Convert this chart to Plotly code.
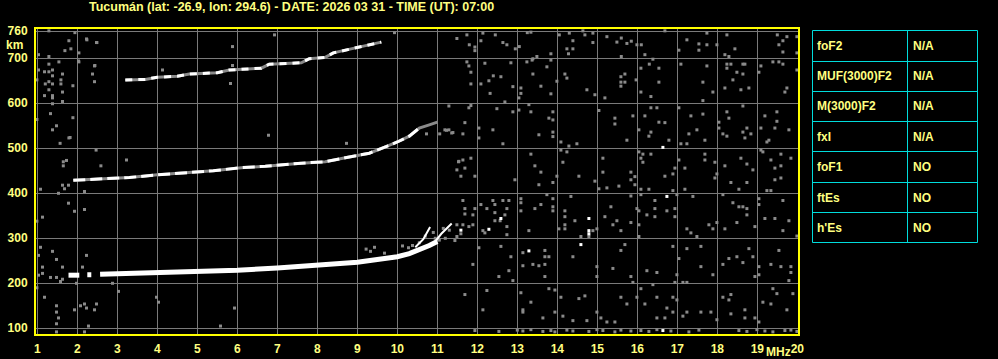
import plotly.graph_objects as go

title_text = "Tucumán (lat: -26.9, lon: 294.6) - DATE: 2026 03 31 - TIME (UT): 07:00"
x_ticks = list(range(1, 21))
y_ticks = [100, 200, 300, 400, 500, 600, 700, 760]
table_params = ["foF2", "MUF(3000)F2", "M(3000)F2", "fxI", "foF1", "ftEs", "h'Es"]
table_values = ["N/A", "N/A", "N/A", "N/A", "NO", "NO", "NO"]

# first-hop F trace (thick white)
t1_freq = [1.78, 2.05, None, 2.25, 2.35, None, 2.57, 3.0, 4.0, 5.0, 6.0, 7.0, 8.0, 9.0, 9.5, 10.0, 10.3, 10.6, 10.8, 11.0]
t1_km = [218, 218, None, 219, 219, None, 220, 221, 222, 225, 229, 234, 240, 247, 253, 259, 266, 276, 284, 293]
# thin branches at the end of the first hop
br1_freq = [10.45, 10.65, 10.82]
br1_km = [280, 298, 325]
br2_freq = [10.95, 11.1, 11.36]
br2_km = [293, 310, 333]
# second hop
t2_freq = [1.9, 2.5, 3.3, 4.0, 4.7, 5.4, 6.1, 6.7, 7.6, 8.2, 8.7, 9.3, 9.75, 10.0, 10.3, 10.55, 10.8, 11.0]
t2_km = [429, 432, 435, 441, 446, 450, 457, 460, 467, 470, 479, 489, 505, 514, 527, 545, 552, 558]
# third hop
t3_freq = [3.2, 3.7, 4.0, 4.5, 4.8, 5.5, 5.8, 6.6, 6.8, 7.6, 7.8, 8.2, 8.4, 8.9, 9.2, 9.6]
t3_km = [652, 653, 658, 660, 665, 668, 674, 678, 687, 690, 699, 702, 712, 722, 728, 736]

# gray noise echoes
noise_freq = [
    11.74, 11.49, 11.8, 11.94, 11.94, 12.14, 12.09, 12.45, 12.64, 12.74, 12.95, 13.05, 13.25, 13.34, 13.49, 13.39, 13.84, 14.05, 14.3, 14.39,
    14.24, 14.28, 14.39, 14.64, 14.89, 14.89, 14.69, 15.24, 15.49, 15.6, 15.74, 15.85, 15.99, 16.1, 16.19, 15.6, 16.69, 17.04, 17.24, 17.54,
    17.54, 17.74, 17.74, 17.99, 18.24, 18.44, 18.19, 18.29, 19.5, 19.54, 19.64, 19.74, 19.64, 19.99, 19.99,
    11.74, 11.79, 11.84, 11.84, 12.19, 12.84, 12.4, 12.29, 12.59, 12.89, 12.09, 12.32, 12.69, 13.24, 13.37, 13.74, 13.84, 13.39, 13.09, 13.09,
    13.04, 13.59, 13.84, 13.99, 14.19, 14.24, 14.74, 14.94, 15.19, 15.59, 15.69, 15.59, 15.69, 15.59, 15.97, 16.09, 16.3, 16.39, 16.54, 16.54,
    16.09, 16.34, 17.09, 17.64, 17.74, 17.89, 17.64, 18.24, 18.34, 18.24, 18.49, 18.64, 18.69, 18.64, 18.39, 18.19, 18.59, 18.79, 19.09, 19.04,
    19.39, 19.54, 19.64, 19.74, 19.69, 19.99,
    11.29, 11.79, 11.84, 11.69, 11.19, 11.29, 11.39, 11.64, 12.04, 12.04, 12.39, 12.49, 12.64, 12.89, 13.04, 13.29, 13.34, 13.54, 13.79, 13.89,
    13.89, 13.89, 13.89, 14.09, 14.29, 14.49, 15.04, 15.44, 15.44, 15.89, 15.74, 16.04, 16.19, 16.34, 16.49, 16.34, 16.29, 16.54, 16.69, 16.79,
    17.04, 17.34, 17.64, 17.49, 17.29, 17.69, 17.09, 17.24, 18.04, 18.04, 18.24, 18.29, 18.14, 18.24, 18.64, 18.74, 18.64, 18.69, 18.84, 19.19,
    19.09, 19.29, 19.44, 19.49, 19.49, 19.79, 19.24,
    11.54, 11.64, 11.84, 11.69, 11.49, 11.59, 11.94, 13.34, 13.44, 13.59, 13.99, 14.09, 14.24, 14.14, 14.54, 15.14, 15.14, 15.84, 16.04, 16.14,
    16.34, 16.09, 16.14, 16.69, 16.94, 16.89, 17.04, 17.19, 17.69, 17.69, 17.94, 17.99, 18.19, 18.59, 18.74, 18.89, 19.09, 19.14, 19.34, 19.59,
    19.84, 19.59, 19.44,
    12.94, 13.54, 13.89, 14.94, 15.04, 15.24, 15.54, 15.84, 15.94, 15.94, 15.84, 16.09, 16.29, 16.89, 17.19, 17.94, 18.34, 18.54, 18.74, 19.24,
    19.34, 19.44, 19.59,
    11.64, 11.69, 11.69, 11.89, 11.94, 12.09, 12.24, 12.39, 12.44, 12.44, 12.44, 12.64, 12.74, 12.79, 12.69, 12.74, 12.57, 12.14, 11.89, 11.79,
    11.64, 11.49, 11.59, 11.49, 11.44, 12.19, 12.74, 13.09, 13.09, 13.09, 13.29, 13.44, 13.59, 13.74, 13.89, 13.89, 13.89, 14.04, 14.19, 14.19,
    14.19, 14.19, 14.34, 14.44, 14.79, 14.59, 14.89, 14.99, 15.19, 15.34, 15.39, 15.49, 15.59, 15.84, 15.99, 16.04, 16.04, 16.04, 16.09, 16.44,
    16.44, 16.44, 16.24, 16.74, 16.94, 16.94, 16.99, 17.39, 17.24, 17.34, 17.49, 17.79, 17.89, 17.99, 18.14, 18.39, 18.54, 18.64, 18.74, 18.74,
    18.49, 18.19, 18.94, 19.04, 19.04, 19.19, 19.44, 19.64, 19.64, 19.79, 19.99,
    12.04, 12.59, 12.84, 11.89, 12.54, 12.79, 12.89, 13.14, 13.14, 13.39, 13.54, 13.69, 13.69, 13.69, 13.79, 13.69, 14.39, 14.99, 14.99, 15.39,
    15.69, 15.59, 15.84, 15.89, 16.24, 16.49, 16.39, 16.89, 17.04, 16.99, 16.94, 17.14, 17.24, 17.24, 17.59, 17.59, 17.89, 18.14, 18.29, 18.49,
    18.64, 18.79, 18.89, 18.94, 19.04, 19.04, 19.34, 19.54, 19.59, 19.84, 19.84, 19.79,
    11.69, 12.24, 12.14, 13.09, 13.34, 13.14, 13.14, 13.79, 13.94, 14.09, 14.54, 14.69, 14.14, 14.39, 14.74, 13.64, 13.94, 14.99, 15.09, 15.24,
    15.44, 15.59, 15.74, 15.99, 16.19, 16.49, 16.09, 16.74, 16.49, 16.69, 16.89, 16.99, 16.89, 17.14, 17.24, 17.59, 17.84, 17.99, 18.14, 18.34,
    18.29, 18.34, 18.69, 18.69, 18.94, 19.04, 19.14, 19.34, 19.39, 19.49, 19.89, 19.74,
    11.94, 12.54, 13.0, 13.14, 13.34, 13.64, 13.84, 13.94, 14.24, 14.39, 14.79, 14.99, 15.14, 15.44, 15.59, 15.84, 16.09, 16.29, 16.49, 16.84,
    17.29, 17.54, 18.54, 18.74, 18.99, 19.19, 19.39, 19.69, 19.84, 19.99,
    1.08, 1.63, 1.68, 1.78, 1.53, 2.18, 1.78, 1.93, 2.18, 1.13, 0.99, 1.08, 1.38, 1.03, 2.23, 1.48, 1.13, 1.63, 2.13, 1.03,
    1.13, 1.33, 1.48, 1.63, 1.58, 1.98, 2.88, 3.03, 1.18, 3.98, 4.03, 5.93, 2.08, 2.18, 2.48, 2.23, 2.43, 1.93, 1.48, 1.48,
    1.53, 1.48, 1.48, 2.28, 2.18, 5.58, 0.99,
    1.29, 1.94, 1.79, 1.69, 1.84, 2.04, 2.23, 2.48, 1.03, 1.29, 1.54, 2.04, 1.29, 1.03, 1.18, 1.29, 1.38, 1.38, 1.63, 0.99,
    1.29, 1.2, 1.59, 1.59, 1.38, 1.29, 1.63, 1.18, 1.38, 1.38, 1.63, 1.89, 2.43, 2.38, 2.43, 1.38, 1.33, 1.89, 1.48, 1.38,
    1.79, 0.99,
    2.24, 2.49, 2.03, 2.44, 5.88, 6.93, 5.83, 5.88, 9.93, 4.13, 1.82, 6.78, 8.73, 2.47, 3.23, 1.65, 1.73, 1.65, 2.59, 1.57,
    11.53, 11.06, 11.23, 11.36, 10.73,
    9.22, 9.43, 9.33, 9.68, 10.13, 10.28, 10.38, 10.55, 10.7, 10.9, 10.95, 11.05, 11.2, 11.3, 11.15,
]
noise_km = [
    752, 744, 730, 725, 717, 756, 739, 752, 735, 730, 721, 726, 757, 758, 704, 699, 710, 752, 756, 739,
    721, 710, 721, 761, 756, 735, 752, 748, 736, 745, 733, 738, 730, 730, 708, 704, 761, 718, 741, 732,
    718, 756, 730, 730, 752, 721, 708, 704, 752, 730, 739, 748, 714, 748, 712,
    692, 683, 669, 643, 689, 690, 661, 650, 659, 637, 643, 622, 603, 692, 696, 681, 696, 665, 634, 622,
    612, 638, 621, 649, 665, 656, 630, 619, 612, 659, 665, 647, 647, 638, 652, 678, 687, 698, 678, 647,
    625, 615, 687, 647, 683, 625, 606, 687, 687, 678, 669, 687, 687, 665, 652, 634, 630, 634, 683, 669,
    692, 692, 687, 634, 625, 674,
    594, 590, 595, 557, 541, 541, 535, 532, 545, 523, 541, 588, 510, 581, 585, 597, 581, 530, 567, 563,
    581, 536, 526, 514, 505, 510, 584, 567, 554, 572, 518, 541, 572, 590, 590, 536, 527, 558, 557, 518,
    590, 572, 576, 541, 532, 518, 510, 510, 558, 545, 581, 567, 532, 527, 594, 545, 536, 523, 532, 572,
    545, 518, 545, 581, 560, 541, 514,
    471, 474, 478, 456, 452, 438, 438, 487, 461, 447, 438, 496, 492, 469, 438, 478, 447, 447, 492, 487,
    487, 478, 469, 438, 456, 443, 474, 456, 487, 474, 469, 443, 461, 478, 465, 452, 496, 492, 474, 487,
    478, 461, 456,
    430, 419, 424, 427, 410, 412, 416, 430, 437, 419, 394, 409, 409, 406, 409, 434, 424, 409, 424, 406,
    406, 430, 434,
    384, 366, 354, 352, 366, 375, 366, 384, 375, 357, 339, 384, 366, 384, 352, 326, 339, 317, 330, 326,
    330, 330, 310, 304, 295, 312, 308, 388, 379, 361, 317, 366, 375, 397, 388, 370, 361, 321, 361, 348,
    330, 321, 393, 339, 304, 304, 317, 321, 348, 370, 330, 339, 317, 335, 366, 361, 330, 304, 397, 384,
    366, 348, 352, 361, 366, 348, 397, 393, 321, 312, 304, 330, 321, 335, 397, 379, 370, 370, 366, 352,
    335, 321, 326, 388, 375, 344, 344, 384, 317, 339, 305,
    279, 282, 259, 242, 215, 228, 206, 268, 239, 242, 239, 273, 259, 242, 259, 215, 259, 237, 215, 233,
    286, 273, 215, 202, 228, 224, 197, 282, 255, 219, 202, 202, 202, 277, 282, 237, 219, 242, 255, 259,
    246, 277, 259, 215, 237, 219, 242, 273, 237, 237, 224, 206,
    175, 184, 141, 179, 158, 141, 136, 188, 185, 169, 166, 172, 127, 117, 117, 123, 136, 136, 123, 114,
    114, 169, 154, 169, 154, 169, 188, 145, 123, 123, 169, 163, 136, 127, 136, 136, 136, 119, 169, 175,
    163, 132, 141, 123, 123, 114, 158, 154, 188, 177, 177, 141,
    95, 93, 96, 94, 97, 93, 95, 92, 96, 94, 93, 97, 95, 92, 96, 94, 95, 93, 97, 94,
    92, 96, 95, 93, 97, 94, 92, 95, 96, 93,
    409, 418, 410, 418, 400, 404, 378, 360, 364, 347, 338, 280, 271, 262, 262, 253, 236, 236, 236, 218,
    222, 213, 213, 209, 204, 200, 200, 182, 169, 169, 158, 145, 150, 154, 154, 145, 141, 141, 150, 136,
    123, 110, 92, 105, 92, 105, 190,
    761, 757, 739, 717, 721, 712, 743, 735, 708, 704, 692, 692, 687, 674, 670, 670, 674, 661, 665, 652,
    648, 643, 652, 643, 643, 630, 625, 617, 617, 612, 604, 639, 683, 665, 648, 599, 577, 568, 550, 541,
    523, 564,
    741, 735, 694, 684, 726, 752, 644, 684, 757, 674, 524, 529, 511, 496, 474, 470, 473, 461, 461, 511,
    470, 532, 540, 534, 532,
    276, 280, 271, 267, 283, 279, 284, 290, 305, 313, 300, 296, 300, 318, 322,
]
# isolated white echoes
speck_freq = [16.64, 12.59, 12.29, 14.79, 14.79, 14.79, 16.74, 13.29, 14.59, 16.64, 11.59]
speck_km = [502, 344, 320, 344, 317, 310, 393, 272, 286, 95, 318]

# ---------- geometry helpers (pixel -> paper) ----------
L, R, T, B = 36, 798, 29, 334
W, H = 998, 359
def px(x):
    return (x - L) / (R - L)
def py(y):
    return (B - y) / (B - T)

YEL = "#ffff00"
TXT = "#ffff80"
GRID = "#7a7a7a"
NOISE = "#8a8a8a"
CYAN = "#00dcdc"
FONT = "Liberation Sans, Arial, sans-serif"

fig = go.Figure()
fig.add_trace(go.Scatter(x=noise_freq, y=noise_km, mode="markers",
                         marker=dict(symbol="square", size=3, color=NOISE, line=dict(width=0))))
# gray underlays for fragmented hops
fig.add_trace(go.Scatter(x=t2_freq, y=t2_km, mode="lines", line=dict(color=NOISE, width=3)))
fig.add_trace(go.Scatter(x=t3_freq, y=t3_km, mode="lines", line=dict(color=NOISE, width=3)))
fig.add_trace(go.Scatter(x=t2_freq[:-2], y=t2_km[:-2], mode="lines",
                         line=dict(color="white", width=3, dash="12px,5px")))
fig.add_trace(go.Scatter(x=t3_freq, y=t3_km, mode="lines",
                         line=dict(color="white", width=3, dash="7px,6px")))
fig.add_trace(go.Scatter(x=t1_freq, y=t1_km, mode="lines", line=dict(color="white", width=5)))
fig.add_trace(go.Scatter(x=br1_freq, y=br1_km, mode="lines", line=dict(color="white", width=2)))
fig.add_trace(go.Scatter(x=br2_freq, y=br2_km, mode="lines", line=dict(color="white", width=2)))
fig.add_trace(go.Scatter(x=speck_freq, y=speck_km, mode="markers",
                         marker=dict(symbol="square", size=3, color="white", line=dict(width=0))))

tickfont = dict(family=FONT, size=12, color=TXT, weight="bold")
fig.update_layout(
    width=W, height=H, autosize=False,
    margin=dict(l=L, r=W - R, t=T, b=H - B, pad=0, autoexpand=False),
    paper_bgcolor="black", plot_bgcolor="black",
    showlegend=False, hovermode=False,
    xaxis=dict(range=[0.9675, 20.0175], tickvals=x_ticks, ticktext=[str(v) for v in x_ticks],
               showgrid=True, gridcolor=GRID, gridwidth=1, zeroline=False, automargin=False,
               showline=True, linecolor=YEL, linewidth=2, mirror=True,
               ticks="", ticklabelstandoff=3, tickfont=tickfont, fixedrange=True),
    yaxis=dict(range=[87.3, 765.1], tickvals=y_ticks, ticktext=[str(v) for v in y_ticks],
               showgrid=True, gridcolor=GRID, gridwidth=1, zeroline=False, automargin=False,
               showline=True, linecolor=YEL, linewidth=2, mirror=True,
               ticks="", ticklabelstandoff=4, tickfont=tickfont, fixedrange=True),
)

ann = []
ann.append(dict(text=title_text, x=px(87), y=py(7), xref="paper", yref="paper",
                xanchor="left", yanchor="middle", showarrow=False,
                font=dict(family=FONT, size=12.5, color=TXT, weight="bold")))
ann.append(dict(text="km", x=px(14), y=py(45), xref="paper", yref="paper",
                xanchor="center", yanchor="middle", showarrow=False,
                font=dict(family=FONT, size=12, color=TXT, weight="bold")))
ann.append(dict(text="MHz", x=px(778.5), y=py(352), xref="paper", yref="paper",
                xanchor="center", yanchor="middle", showarrow=False, borderpad=0,
                font=dict(family=FONT, size=12, color=TXT, weight="bold")))

shapes = []
tx0, tx1, tdiv = 812.5, 977.5, 907.5
row_edges = [30.5, 61.5, 91.5, 121.5, 151.5, 182.5, 212.5, 242.5]
shapes.append(dict(type="rect", xref="paper", yref="paper", x0=px(tx0), x1=px(tx1),
                   y0=py(row_edges[0]), y1=py(row_edges[-1]), line=dict(color=CYAN, width=1)))
shapes.append(dict(type="line", xref="paper", yref="paper", x0=px(tdiv), x1=px(tdiv),
                   y0=py(row_edges[0]), y1=py(row_edges[-1]), line=dict(color=CYAN, width=1)))
for ye in row_edges[1:-1]:
    shapes.append(dict(type="line", xref="paper", yref="paper", x0=px(tx0), x1=px(tx1),
                       y0=py(ye), y1=py(ye), line=dict(color=CYAN, width=1)))
for i, (p, v) in enumerate(zip(table_params, table_values)):
    yc = (row_edges[i] + row_edges[i + 1]) / 2
    ann.append(dict(text=p, x=px(815), y=py(yc), xref="paper", yref="paper",
                    xanchor="left", yanchor="middle", showarrow=False,
                    font=dict(family=FONT, size=12, color=TXT, weight="bold")))
    ann.append(dict(text=v, x=px(910.5), y=py(yc), xref="paper", yref="paper",
                    xanchor="left", yanchor="middle", showarrow=False,
                    font=dict(family=FONT, size=12, color=TXT, weight="bold")))

fig.update_layout(annotations=ann, shapes=shapes)
fig.write_html("out.html", config={"displayModeBar": False, "staticPlot": True})
